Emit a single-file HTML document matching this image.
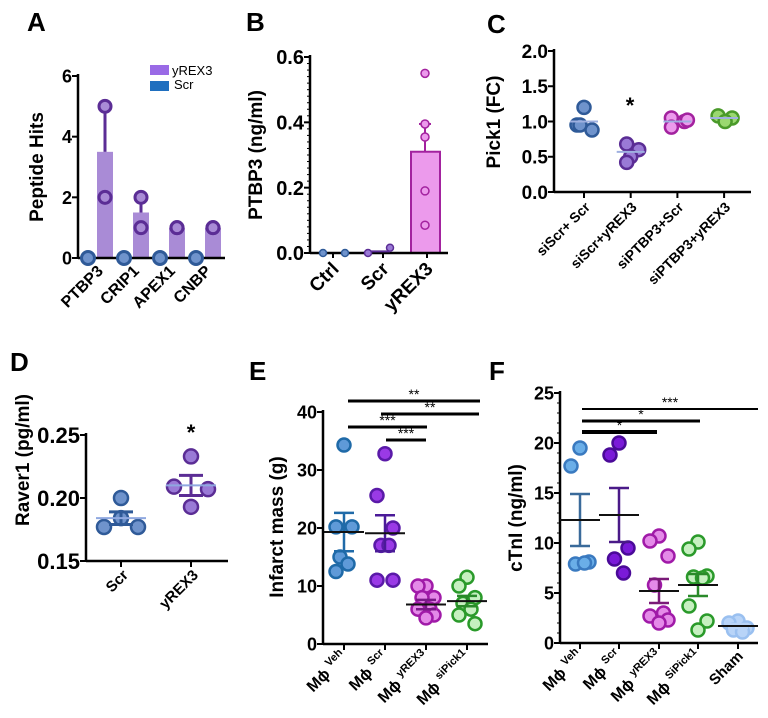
<!DOCTYPE html>
<html><head><meta charset="utf-8">
<style>
html,body{margin:0;padding:0;background:#fff;}
svg{display:block;font-family:"Liberation Sans",sans-serif;}
.pl{font-size:26px;font-weight:bold;}
.tk{font-size:18px;font-weight:bold;}
.yl{font-size:19px;font-weight:bold;}
.xl{font-size:15px;font-weight:bold;}
</style></head>
<body>
<svg id="fig" width="768" height="718" viewBox="0 0 768 718">
<text class="pl" x="27" y="31">A</text>
<text class="pl" x="246" y="31">B</text>
<text class="pl" x="487" y="33">C</text>
<text class="pl" x="10" y="371">D</text>
<text class="pl" x="249" y="380">E</text>
<text class="pl" x="489" y="380">F</text>
</svg>
<script>
// Panel A data
const aCats=["PTBP3","CRIP1","APEX1","CNBP"];
const aMeans=[3.5,1.5,1,1];
const aPoints=[[5,2],[2,1],[1,1],[1,1]];
const aScr=[0,0,0,0];
const aTicks=[0,2,4,6];
// Panel B data
const bCats=["Ctrl","Scr","yREX3"];
const bCtrl=[0,0];
const bScr=[0,0.01];
const bMean=0.31;
const bErr=0.395;
const bPoints=[0.55,0.395,0.355,0.19,0.085];
const bTicks=[0,0.2,0.4,0.6];
// Panel C data
const cCats=["siScr+ Scr","siScr+yREX3","siPTBP3+Scr","siPTBP3+yREX3"];
const cPoints=[[1.2,0.95,0.88,0.95],[0.68,0.6,0.5,0.42],[1.05,1.0,0.92,1.02],[1.08,1.05,1.0]];
const cMeans=[1.0,0.57,1.0,1.05];
const cTicks=[0,0.5,1.0,1.5,2.0];
// Panel D data
const dCats=["Scr","yREX3"];
const dPoints=[[0.2,0.177,0.184,0.177],[0.233,0.209,0.193,0.207]];
const dMeans=[0.184,0.21];
const dErr=[0.005,0.008];
const dTicks=[0.15,0.20,0.25];
// Panel E data
const eCats=["Veh","Scr","yREX3","siPick1"];
const ePoints=[[34.3,20.2,20.2,15,13.8,12.5],[32.8,25.6,20,17,17,11,11],[10,10,8,8,6,6,5,4.5],[11.5,10,8,7,6,5,3.5]];
const eMeans=[19.3,19.1,6.8,7.4];
const eErr=[3.3,3.1,0.8,0.9];
const eTicks=[0,10,20,30,40];
// Panel F data
const fCats=["Veh","Scr","yREX3","SiPick1","Sham"];
const fPoints=[[19.5,17.7,8.1,7.9,8.0],[20,18.8,9.5,8.4,7],[10.7,10.2,8.7,5.8,3,2.7,2.3,2],[10.1,9.4,6.7,6.6,6.5,3.7,2.2,1.3],[2.2,2.0,1.5,1.3,1.1]];
const fMeans=[12.3,12.8,5.2,5.8,1.7];
const fErr=[2.6,2.7,1.2,1.1,0.2];
const fTicks=[0,5,10,15,20,25];

const NS="http://www.w3.org/2000/svg";
const svg=document.getElementById('fig');
function mk(tag,attrs,txt){const e=document.createElementNS(NS,tag);for(const k in attrs)e.setAttribute(k,attrs[k]);if(txt!==undefined)e.textContent=txt;svg.appendChild(e);return e;}
function lin(d0,d1,r0,r1){return v=>r0+(v-d0)*(r1-r0)/(d1-d0);}
function jit(i,n,s){if(n<=1)return 0;const p=[0,-1,1,-0.5,0.5,-1,1,0];return p[i%8]*s;}

function axes(x0,x1,y0,yTop,ys,ticks,fmt,pfx,fs){
  let a=mk('line',{x1:x0,y1:y0,x2:x1,y2:y0,stroke:'#000','stroke-width':2.5});
  
  
  let b=mk('line',{x1:x0,y1:y0+1,x2:x0,y2:yTop,stroke:'#000','stroke-width':2.5});
  
  
  ticks.forEach(t=>{
    const y=ys(t);
    let l=mk('line',{x1:x0-6,y1:y,x2:x0,y2:y,stroke:'#000','stroke-width':2});
    
    
    let tx=mk('text',{x:x0-6,y:y+fs*0.36,'text-anchor':'end',class:'tk','font-size':fs,style:'font-size:'+fs+'px'},fmt(t));
    
    
  });
}
function ylabel(x,y,s,pfx){let t=mk('text',{x:x,y:y,class:'yl','text-anchor':'middle',transform:`rotate(-90 ${x} ${y})`},s);
  
  }
function xlab(x,y,s,pfx,fs){let t=mk('text',{x:x,y:y,class:'xl','text-anchor':'end',transform:`rotate(-45 ${x} ${y})`},s);
  if(fs)t.setAttribute('style','font-size:'+fs+'px');
  
  return t;}
function dot(x,y,r,fill,stroke,sw,name){let c=mk('circle',{cx:x,cy:y,r:r,fill:fill,stroke:stroke,'stroke-width':sw});
  
  }
function hl(x1,x2,y,col,w,name){let l=mk('line',{x1:x1,x2:x2,y1:y,y2:y,stroke:col,'stroke-width':w});
  
  }
function vl(x,y1,y2,col,w,name){let l=mk('line',{x1:x,x2:x,y1:y1,y2:y2,stroke:col,'stroke-width':w});
  
  }

// ---- Panel A
(function(){
  const ys=lin(0,6,258,76);
  aCats.forEach((c,i)=>{
    const xb=105+i*36;
    let r=mk('rect',{x:xb-8,y:ys(aMeans[i]),width:16,height:258-ys(aMeans[i]),fill:'#a98bd6'});
    
    
    const mx=Math.max(...aPoints[i]);
    if(mx>aMeans[i]){vl(xb,ys(aMeans[i]),ys(mx),'#5b2d95',3,'a-error-bar');hl(xb-5,xb+5,ys(mx),'#5b2d95',3,'a-error-cap');}
    aPoints[i].forEach(v=>dot(xb,ys(v),6,'#a98bd6','#5b2d95',3,'a-point-yrex3'));
  });
  axes(78,225,258,74,ys,aTicks,t=>t,'a',18);
  aCats.forEach((c,i)=>{dot(88+i*36,ys(aScr[i]),6.5,'#6f93cc','#2f5a98',3,'a-point-scr');
    xlab(104+i*36,272,c,'a',16);});
  let l1=mk('rect',{x:150,y:65,width:19,height:10,fill:'#9a6ae6'});
  
  
  let l2=mk('rect',{x:150,y:81,width:19,height:10,fill:'#1f6fbf'});
  
  
  let t1=mk('text',{x:172,y:75,'font-size':13},'yREX3');
  
  
  let t2=mk('text',{x:174,y:89,'font-size':13},'Scr');
  
  
  ylabel(43,167,'Peptide Hits','a');
})();

// ---- Panel B
(function(){
  const ys=lin(0,0.6,253,57);
  let r=mk('rect',{x:411,y:ys(bMean),width:29,height:253-ys(bMean),fill:'#ec9aec',stroke:'#a3229f','stroke-width':2});
  
  
  vl(425,ys(bMean),ys(bErr),'#a3229f',2,'b-error-bar');
  hl(419,431,ys(bErr),'#a3229f',2,'b-error-cap');
  bPoints.forEach(v=>dot(425,ys(v),4,'#ec9aec','#a3229f',1.5,'b-point-yrex3'));
  axes(310,448,253,55,ys,bTicks,t=>t.toFixed(1),'b',20);
  for(let v=0.02;v<0.6;v+=0.02){let m=mk('line',{x1:307,x2:310,y1:ys(v),y2:ys(v),stroke:'#000','stroke-width':1});
    
    }
  [333,383,427].forEach(x=>vl(x,253,258,'#000',2,'b-x-tick'));
  hl(368,390,ys(0.005),'#5b2d95',2,'b-scr-mean');
  bCtrl.forEach((v,i)=>dot(323+i*22,ys(v),3.5,'#6f93cc','#2f5a98',1.5,'b-point-ctrl'));
  bScr.forEach((v,i)=>dot(368+i*22,ys(v)-(i?2:0),3.5,'#9a7ad6','#5b2d95',1.5,'b-point-scr'));
  bCats.forEach((c,i)=>xlab([340,390,434][i],270,c,'b',19));
  ylabel(262,155,'PTBP3 (ng/ml)','b');
})();

// ---- Panel C
(function(){
  const ys=lin(0,2,192,51);
  const cols=[['#6f93cc','#2f5a98'],['#9a7ad6','#5b2d95'],['#ec9aec','#a3229f'],['#9ad870','#4a9a2a']];
  const offs=[[0,-7,8,-4],[-4,8,0,-4],[-6,7,-6,10],[-6,8,1,0]];
  axes(554,751,192,49,ys,cTicks,t=>t.toFixed(1),'c',19);
  cCats.forEach((c,i)=>{const x=584+i*46.7;
    vl(x,192,198,'#000',2,'c-x-tick');
    cPoints[i].forEach((v,j)=>dot(x+offs[i][j],ys(v),6.5,cols[i][0],cols[i][1],2.5,'c-point'));
    hl(x-14,x+14,ys(cMeans[i]),'#9fb0e0',2,'c-mean-line');
    xlab(x+7,208,c,'c',14);});
  let s=mk('text',{x:630,y:113,'font-size':22,'text-anchor':'middle','font-weight':'bold'},'*');
  
  
  ylabel(500,122,'Pick1 (FC)','c');
})();

// ---- Panel D
(function(){
  const ys=lin(0.15,0.25,561,435);
  const cols=[['#6f93cc','#2f5a98'],['#9a7ad6','#5b2d95']];
  const offs=[[0,-17,0,17],[0,-17,0,17]];
  axes(86,228,561,433,ys,dTicks,t=>t.toFixed(2),'d',22);
  dCats.forEach((c,i)=>{const x=121+i*70;
    vl(x,561,567,'#000',2,'d-x-tick');
    dPoints[i].forEach((v,j)=>dot(x+offs[i][j],ys(v),7,cols[i][0],cols[i][1],2.5,'d-point'));
    vl(x,ys(dMeans[i]-dErr[i]),ys(dMeans[i]+dErr[i]),cols[i][1],3,'d-error-bar');
    hl(x-12,x+12,ys(dMeans[i]+dErr[i]),cols[i][1],3,'d-error-cap');
    hl(x-12,x+12,ys(dMeans[i]-dErr[i]),cols[i][1],3,'d-error-cap');
    hl(x-25,x+25,ys(dMeans[i]),'#8fa8e0',2,'d-mean-line');
    xlab(x+8,576,c,'d',15);});
  let s=mk('text',{x:191,y:440,'font-size':22,'text-anchor':'middle','font-weight':'bold'},'*');
  
  
  ylabel(29,460,'Raver1 (pg/ml)','d');
})();

function scatterPanel(pfx,x0,x1,y0,yTop,ys,ticks,cats,pts,means,errs,cols,gx,sp,barCols){
  axes(x0,x1,y0,yTop,ys,ticks,t=>t,pfx,18);
  cats.forEach((c,i)=>{const x=gx[i];
    vl(x,y0,y0+6,'#000',2,pfx+'-x-tick');
    pts[i].forEach((v,j)=>dot(x+jit(j,pts[i].length,sp),ys(v),6.5,cols[i][0],cols[i][1],2.5,pfx+'-point-'+c.toLowerCase()));
    const bc=barCols[i];
    vl(x,ys(means[i]-errs[i]),ys(means[i]+errs[i]),bc,2.5,pfx+'-error-bar');
    hl(x-10,x+10,ys(means[i]+errs[i]),bc,2.5,pfx+'-error-cap');
    hl(x-10,x+10,ys(means[i]-errs[i]),bc,2.5,pfx+'-error-cap');
    hl(x-20,x+20,ys(means[i]),'#111',2,pfx+'-mean-line');
    let t;
    if(c==='Sham'){t=xlab(x+6,y0+14,'Sham',pfx,15);}
    else{t=xlab(x+4,y0+14,'',pfx);
      const a=document.createElementNS(NS,'tspan');a.textContent='M\u03d5 ';a.setAttribute('style','font-size:16px');t.appendChild(a);
      const b=document.createElementNS(NS,'tspan');b.textContent=c;b.setAttribute('style','font-size:11px');b.setAttribute('dy','-7');t.appendChild(b);}
  });
}
function sig(pfx,x1,x2,y,lbl,w){hl(x1,x2,y,'#000',w,pfx+'-significance-bar');
  let t=mk('text',{x:(x1+x2)/2,y:y-2,'font-size':14,'text-anchor':'middle'},lbl);
  
  }

// ---- Panel E
(function(){
  const ys=lin(0,40,644,412);
  const cols=[['#5f9ad8','#1f6aa8'],['#9a3ae6','#5a1aa8'],['#e48ae8','#a01aa8'],['#c6f0c0','#2a9a2a']];
  scatterPanel('e',323,488,644,410,ys,eTicks,eCats,ePoints,eMeans,eErr,cols,[344,385,426,467],8,['#1f6aa8','#4a1a98','#7a1a88','#2a8a2a']);
  sig('e',348,480,401,'**',3);sig('e',381,479,414,'**',3);sig('e',348,427,427,'***',3);sig('e',386,426,440,'***',3);
  ylabel(283,527,'Infarct mass (g)','e');
})();

// ---- Panel F
(function(){
  const ys=lin(0,25,643,393);
  const cols=[['#6aaee8','#3a7ac0'],['#7a1ad8','#4a0a98'],['#e48ae8','#a01aa8'],['#c6f0c0','#2a9a2a'],['#b8d4f8','#9ac0f0']];
  scatterPanel('f',560,758,643,391,ys,fTicks,fCats,fPoints,fMeans,fErr,cols,[580,619,659,698,738],9,['#3a6a9a','#4a1a88','#7a1a78','#2a8a2a','#b8d4f8']);
  for(let v=1;v<25;v++){let m=mk('line',{x1:557,x2:560,y1:ys(v),y2:ys(v),stroke:'#000','stroke-width':1});
    
    }
  sig('f',582,758,409,'***',2);sig('f',582,700,421,'*',3);sig('f',582,657,432,'*',4);
  ylabel(522,518,'cTnI (ng/ml)','f');
})();
</script>
</body></html>
